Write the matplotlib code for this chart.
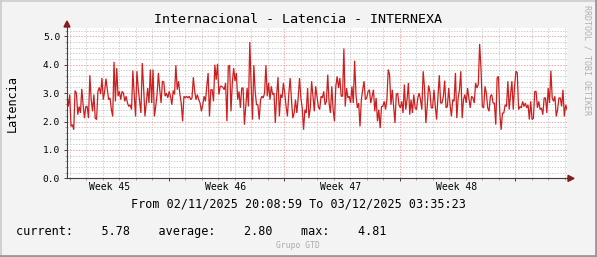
import numpy as np
import matplotlib
matplotlib.use("Agg")
import matplotlib.pyplot as plt
from matplotlib.ticker import MultipleLocator, FixedLocator
from matplotlib.lines import Line2D
from matplotlib.patches import Polygon

# latency samples (ms), left to right
latency = [
    2.95, 2.53, 2.95, 1.83, 1.89, 1.71, 3.09, 3.00, 2.24, 2.53,
    2.30, 3.15, 2.59, 2.12, 2.53, 2.53, 2.12, 3.63, 2.77, 2.36,
    2.95, 2.12, 2.07, 3.06, 3.20, 2.97, 3.53, 2.77, 3.06, 3.51,
    3.12, 2.77, 2.83, 2.42, 2.18, 4.10, 2.71, 3.88, 2.89, 3.06,
    2.77, 3.06, 3.00, 2.71, 2.89, 2.65, 2.53, 2.59, 2.42, 3.79,
    2.95, 2.18, 3.77, 3.18, 2.71, 2.30, 4.06, 3.18, 2.18, 2.65,
    3.18, 2.65, 3.83, 2.65, 3.83, 2.18, 2.53, 2.95, 3.71, 3.12,
    2.65, 3.42, 3.39, 2.89, 3.00, 2.83, 3.06, 2.89, 2.59, 3.09,
    2.95, 3.98, 3.12, 3.42, 2.95, 2.65, 2.01, 2.89, 2.83, 2.89,
    2.83, 2.89, 2.77, 2.83, 3.56, 3.06, 2.77, 2.95, 2.77, 2.65,
    2.36, 2.59, 2.89, 2.71, 3.24, 3.71, 2.18, 3.12, 3.12, 2.71,
    4.00, 3.47, 4.03, 2.95, 3.24, 3.24, 3.20, 3.12, 3.36, 2.01,
    3.94, 3.98, 2.36, 3.36, 3.88, 3.42,
    3.71, 2.77, 3.06, 2.48, 3.18, 3.18, 1.89, 2.53, 3.18, 2.53,
    4.80, 3.30, 2.07, 3.98, 3.06, 2.59, 2.59, 2.07, 2.77, 2.89,
    2.83, 3.00, 3.98, 2.89, 3.36, 2.77, 3.24, 2.95, 3.00, 1.95,
    2.95, 3.56, 2.18, 2.95, 2.83, 3.36, 3.00, 2.53, 2.18, 2.95,
    3.53, 2.77, 2.12, 2.30, 2.77, 2.30, 2.83, 3.53, 2.83, 2.48,
    1.71, 2.42, 2.30, 3.18, 2.12, 2.48, 3.42, 2.89, 2.36, 3.24,
    2.89, 2.53, 2.42, 2.89, 2.83, 3.06, 2.59, 2.71, 3.65, 2.65,
    2.30, 3.24, 2.42, 2.01, 3.24, 3.59, 3.18, 3.53, 2.89, 2.89,
    4.57, 2.53, 3.18, 2.83, 2.89, 2.65, 3.24, 2.65, 4.14, 2.95,
    2.48, 2.65, 1.83, 2.77, 3.12, 3.42, 2.77, 2.83, 3.06, 3.12,
    2.65, 2.89, 3.12, 2.36, 2.83, 2.01, 2.42, 1.77, 2.53, 2.53,
    2.71, 2.42, 2.77, 3.83, 3.65, 2.59, 3.12, 2.53, 1.95, 2.95,
    3.00, 2.59, 2.48,
    2.71, 2.30, 3.30, 2.42, 2.77, 3.36, 2.24, 2.77, 2.30, 2.95,
    2.48, 2.42, 2.83, 3.00, 2.77, 2.42, 3.77, 3.18, 1.95, 2.53,
    3.27, 3.06, 2.48, 2.48, 3.12, 2.53, 2.07, 2.89, 3.63, 2.65,
    2.65, 2.89, 3.44, 2.48, 2.53, 3.18, 2.59, 2.18, 2.77, 2.71,
    3.71, 2.12, 2.81, 3.12, 3.77, 2.12, 2.77, 2.95, 2.65, 3.18,
    2.83, 2.48, 2.89, 2.83, 2.65, 3.36, 3.18, 3.30, 4.73, 3.88,
    2.53, 2.48, 3.24, 3.00, 2.48, 2.36, 2.89, 2.95, 2.65, 2.65,
    1.89, 3.53, 3.59, 2.30, 1.71, 2.30, 2.30, 2.59, 2.53, 3.42,
    2.42, 2.95, 3.42, 2.42, 3.24, 3.77, 3.71, 2.42, 2.53, 2.48,
    2.71, 2.53, 2.65, 2.48, 2.59, 2.07, 2.71, 2.07, 2.12, 3.06,
    3.06, 2.48, 2.71, 2.42, 2.48, 2.24, 2.83, 2.83, 2.30, 3.18,
    2.65, 3.79, 2.83, 2.71, 2.89, 2.18, 2.42, 2.83, 2.83, 2.53,
    3.12, 2.18, 2.59, 2.42,
]

# time span in days: 02/11/2025 20:08:59 -> 03/12/2025 03:35:23
span_days = 30.31
first_midnight = 0.1604
week_labels = ["Week 45", "Week 46", "Week 47", "Week 48"]
week_label_pos = [2.6, 9.6, 16.6, 23.6]
week_bounds = [6.1604, 13.1604, 20.1604, 27.1604]

title = "Internacional - Latencia - INTERNEXA"
ylabel = "Latencia"
period = "From 02/11/2025 20:08:59 To 03/12/2025 03:35:23"
summary = "current:    5.78    average:    2.80    max:    4.81"

MONO = "DejaVu Sans Mono"
W, H = 597, 257

fig = plt.figure(figsize=(W / 100, H / 100), dpi=100)
fig.patch.set_facecolor("#f3f3f3")

def fx(px):
    return px / W

def fy(py):
    return 1 - py / H

x0, x1, y0, y1 = 67, 567, 178.4, 28.3
ax = fig.add_axes([fx(x0), fy(y0), fx(x1 - x0), (y0 - y1) / H])
ax.set_facecolor("white")

t = np.linspace(0, span_days, len(latency))
ax.plot(t, latency, color="#cc1f1f", lw=0.9, solid_joinstyle="miter")

ax.set_xlim(0, span_days)
ax.set_ylim(0, 5.28)

# grid like rrdtool
ax.yaxis.set_major_locator(MultipleLocator(1.0))
ax.yaxis.set_minor_locator(MultipleLocator(0.2))
days = first_midnight + np.arange(0, 31)
ax.xaxis.set_major_locator(FixedLocator(week_bounds))
ax.xaxis.set_minor_locator(FixedLocator([d for d in days if d < span_days]))
ax.set_axisbelow(True)
ax.grid(which="minor", color="#cfcfcf", lw=0.72, linestyle=(0, (1.4, 1.4)))
ax.grid(which="major", color="#f4a6a6", lw=0.72, linestyle=(0, (1.4, 1.4)))

ax.yaxis.set_major_formatter(matplotlib.ticker.FormatStrFormatter("%.1f"))
ax.set_xticklabels([])
ax.tick_params(axis="y", which="major", length=2.5, width=0.7, color="#444444",
               labelsize=6.8, pad=2.5)
ax.tick_params(axis="y", which="minor", length=1.5, width=0.5, color="#888888")
ax.tick_params(axis="x", which="major", length=2.0, width=0.7, color="#444444")
ax.tick_params(axis="x", which="minor", length=1.2, width=0.5, color="#888888")
for lab in ax.get_yticklabels():
    lab.set_fontfamily(MONO)

for s in ["top", "right"]:
    ax.spines[s].set_visible(False)
for s in ["left", "bottom"]:
    ax.spines[s].set_color("#4a3a3a")
    ax.spines[s].set_linewidth(0.8)

for lab, pos in zip(week_labels, week_label_pos):
    ax.text(pos, -0.06, lab, transform=ax.get_xaxis_transform(), ha="center",
            va="center", fontsize=7.0, family=MONO)

# axis extensions and arrows
fig.add_artist(Line2D([fx(x0), fx(x0)], [fy(y1), fy(24)], color="#4a3a3a", lw=0.8))
fig.add_artist(Line2D([fx(x1), fx(570)], [fy(y0), fy(y0)], color="#4a3a3a", lw=0.8))
fig.add_artist(Polygon([[fx(64), fy(27)], [fx(70), fy(27)], [fx(67), fy(21)]],
                       closed=True, color="#8b1a1a", transform=fig.transFigure))
fig.add_artist(Polygon([[fx(568), fy(175.4)], [fx(568), fy(181.4)], [fx(574), fy(178.4)]],
                       closed=True, color="#8b1a1a", transform=fig.transFigure))

# texts
fig.text(fx(298), fy(19.5), title, ha="center", va="center", fontsize=9.6, family=MONO)
fig.text(fx(12), fy(103), ylabel, ha="center", va="center", rotation=90,
         fontsize=8.6, family=MONO)
fig.text(fx(298.3), fy(204), period, ha="center", va="center", fontsize=8.5, family=MONO)
fig.text(fx(16.5), fy(231.7), summary, ha="left", va="center", fontsize=8.5, family=MONO)
fig.text(fx(298), fy(246), "Grupo GTD", ha="center", va="center", fontsize=5.8,
         family=MONO, color="#aaaaaa")
fig.text(fx(587), fy(60), "RRDTOOL / TOBI OETIKER", ha="center", va="center",
         rotation=270, fontsize=6.0, family=MONO, color="#b0b0b0")

# 3d border
fig.add_artist(Line2D([0, 1], [fy(0.5), fy(0.5)], color="#cbcbcb", lw=1.2))
fig.add_artist(Line2D([fx(0.5), fx(0.5)], [0, 1], color="#cbcbcb", lw=1.2))
fig.add_artist(Line2D([0, 1], [fy(255.8), fy(255.8)], color="#999999", lw=2.0))
fig.add_artist(Line2D([fx(595.8), fx(595.8)], [0, 1], color="#999999", lw=2.0))

fig.savefig("out.png", dpi=100, facecolor=fig.get_facecolor())
